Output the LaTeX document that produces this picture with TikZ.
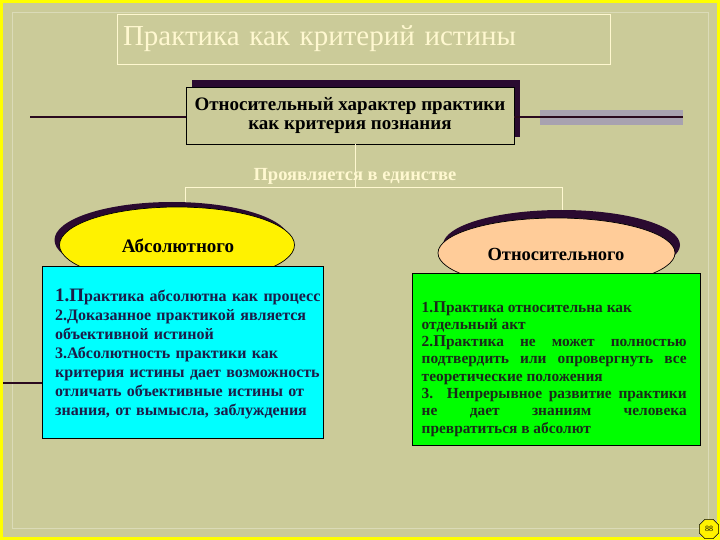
\documentclass[tikz,border=0pt]{standalone}
\usepackage{fontspec}
\setmainfont{Liberation Serif}
\usetikzlibrary{shapes.geometric,shadows}
\definecolor{bg}{HTML}{CBCB99}
\definecolor{frameyel}{HTML}{FFFF00}
\definecolor{cream}{HTML}{FFF8D0}
\definecolor{shadowc}{HTML}{2A0A30}
\definecolor{darkln}{HTML}{2A0A1E}
\definecolor{greybar}{HTML}{A8A2B0}
\definecolor{peach}{HTML}{FFCC99}
\definecolor{cyanfill}{HTML}{00FFFF}
\definecolor{greenfill}{HTML}{00FF00}
\definecolor{navytext}{HTML}{1C1C48}
\definecolor{greentext}{HTML}{1A2A1A}
\tikzset{
  titlebox/.style={draw=cream, line width=0.8pt, minimum width=493pt, minimum height=50pt,
    text width=481pt, align=left, text=cream, font=\fontsize{29}{32}\selectfont, inner xsep=6pt},
  mainbox/.style={draw=black, line width=0.8pt, fill=bg, minimum width=328pt, minimum height=57pt,
    align=center, font=\bfseries\fontsize{19}{19}\selectfont, inner sep=0pt,
    general shadow={fill=shadowc, shadow xshift=6pt, shadow yshift=7pt}},
  darkline/.style={draw=darkln, line width=2.6pt},
  creamline/.style={draw=cream, line width=0.8pt},
  ovalbox/.style={ellipse, draw=black, line width=0.7pt, inner sep=0pt},
  ovaltext/.style={font=\bfseries\fontsize{19}{20}\selectfont, inner sep=0pt},
  listbox/.style={draw=black, line width=0.8pt, inner sep=0pt},
  listtext/.style={anchor=north west, inner sep=0pt, font=\bfseries\fontsize{16}{19}\selectfont},
}
\begin{document}
\begin{tikzpicture}[x=1pt,y=-1pt]
\useasboundingbox (0,0) rectangle (720,540);
% background and frame
\fill[frameyel] (0,0) rectangle (720,540);
\fill[bg] (3,3) rectangle (717,537);
\draw[color=bg!70!white, line width=0.8pt] (12,12) rectangle (708,528);
% title
\node[titlebox] (title) at (363.5,39) {Практика как критерий истины};
% side lines
\fill[greybar] (540,110) rectangle (683,125);
\coordinate (lend) at (30,117);
\coordinate (rend) at (683,117);
% main box
\node[mainbox] (main) at (350,115.5) {Относительный характер практики\\как критерия познания};
\draw[darkline] (lend) -- (main.west |- lend);
\draw[darkline] (main.east |- rend) -- (rend);
% bracket
\coordinate (bl) at (185,187);
\coordinate (br) at (562,187);
\coordinate (bm) at (355,187);
\draw[creamline] (main.south -| bm) -- (bm);
\node[text=cream, font=\bfseries\fontsize{18.5}{20}\selectfont, inner sep=0pt] (unity) at (355,176) {Проявляется в единстве};
\draw[creamline] (185,210) -- (bl) -- (br) -- (562,222);
% ellipses
\node[ovalbox, fill=yellow, minimum width=235pt, minimum height=76pt,
  general shadow={fill=shadowc, shadow xshift=-5pt, shadow yshift=5pt}] (abs) at (177,245) {};
\node[ovaltext] (abslabel) at (178,246) {Абсолютного};
\node[ovalbox, fill=peach, minimum width=237pt, minimum height=70pt,
  general shadow={fill=shadowc, shadow xshift=5pt, shadow yshift=8pt}] (rel) at (556.5,253) {};
\node[ovaltext, font=\bfseries\fontsize{18.5}{20}\selectfont] (rellabel) at (556,254) {Относительного};
% list boxes
\node[listbox, fill=cyanfill, minimum width=281pt, minimum height=172pt] (cbox) at (182.5,352) {};
\node[listbox, fill=greenfill, minimum width=288pt, minimum height=172pt] (gbox) at (556,359) {};
\coordinate (cl) at (3,383);
\draw[darkline] (cl) -- (cbox.west |- cl);
\node[listtext, text=navytext, text width=268pt, align=left] (ctext) at (55,289) {%
{\fontsize{19}{19}\selectfont 1.П}рактика абсолютна как процесс\\
2.Доказанное практикой является\\
объективной истиной\\
3.Абсолютность практики как\\
критерия истины дает возможность\\
отличать объективные истины от\\
знания, от вымысла, заблуждения};
\node[listtext, text=greentext, text width=265pt, align=justify,
  font=\bfseries\fontsize{15.4}{17.3}\selectfont] (gtext) at (421.5,301) {%
1.{\fontsize{16.5}{17.3}\selectfont П}рактика относительна как\\
отдельный акт\\
2.{\fontsize{16.5}{17.3}\selectfont П}рактика не может полностью\linebreak
подтвердить или опровергнуть все\linebreak
теоретические положения\\
3. Непрерывное развитие практики\linebreak
не дает знаниям человека\linebreak
превратиться в абсолют};
% page number
\node[regular polygon, regular polygon sides=8, draw=black, fill=yellow, minimum size=21pt,
  inner sep=0pt, line width=0.5pt, font=\fontsize{8}{9}\selectfont] (pg) at (709,529) {88};
\end{tikzpicture}
\end{document}
